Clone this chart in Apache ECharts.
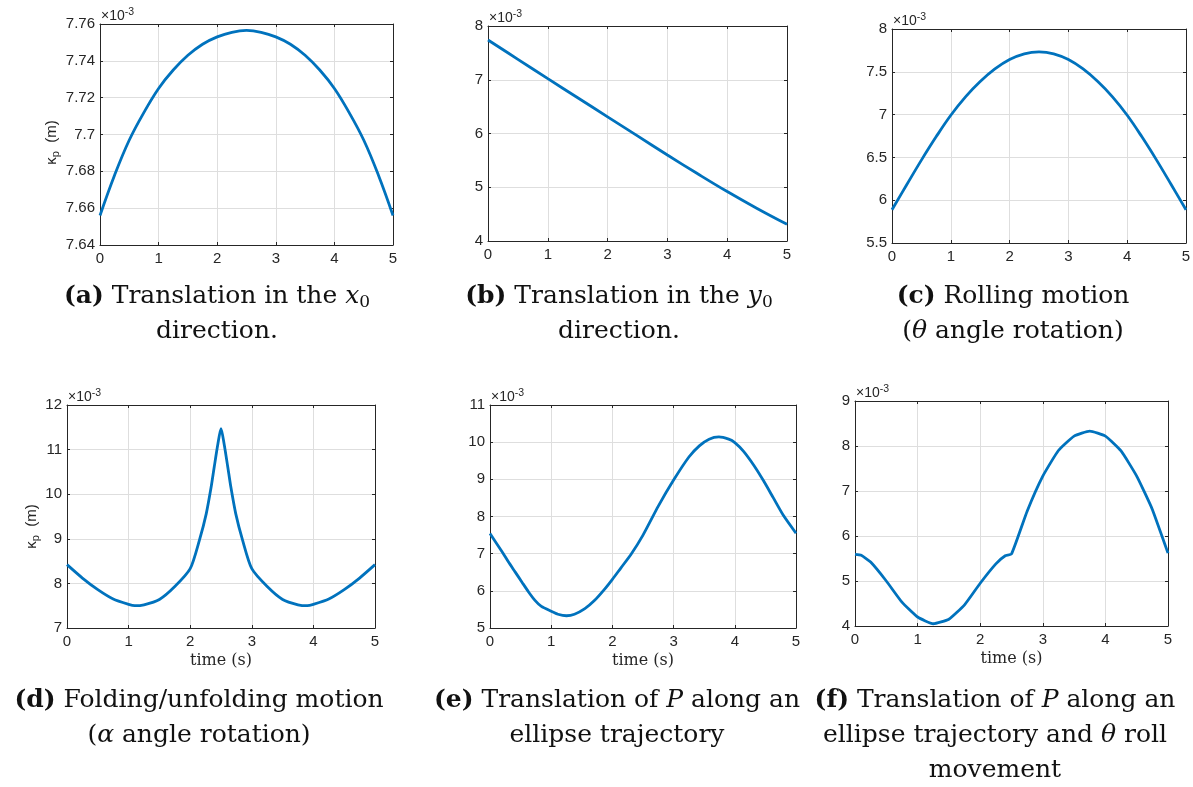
<!DOCTYPE html>
<html>
<head>
<meta charset="UTF-8">
<title>kappa_p vs time</title>
<script src="https://cdn.jsdelivr.net/npm/echarts@6/dist/echarts.min.js"></script>
<style>
body { margin: 0; background: #fff; }
</style>
</head>
<body>
<div id="main" style="width:1193px;height:787px;"></div>
<script type="text/javascript">
// time samples (s)
var tQuarter = [0, 0.25, 0.5, 0.75, 1, 1.25, 1.5, 1.75, 2, 2.25, 2.5, 2.75, 3, 3.25, 3.5, 3.75, 4, 4.25, 4.5, 4.75, 5];
var tHalf = [0, 0.5, 1, 1.5, 2, 2.5, 3, 3.5, 4, 4.5, 5];
var tFold = [0, 0.25, 0.5, 0.75, 1, 1.1, 1.25, 1.5, 1.75, 2, 2.15, 2.26, 2.34, 2.39, 2.45, 2.5, 2.55, 2.61, 2.66, 2.74, 2.85, 3, 3.25, 3.5, 3.75, 3.9, 4, 4.25, 4.5, 4.75, 5];
var tEllipse = [0, 0.2, 0.3, 0.41, 0.52, 0.63, 0.735, 0.84, 1.0, 1.11, 1.25, 1.38, 1.55, 1.71, 1.87, 2.0, 2.14, 2.3, 2.5, 2.75, 3, 3.25, 3.42, 3.58, 3.74, 3.9, 4.0, 4.14, 4.31, 4.47, 4.63, 4.79, 5];
var tRoll = [0, 0.1, 0.25, 0.5, 0.75, 1, 1.25, 1.5, 1.75, 2, 2.25, 2.4, 2.5, 2.75, 3, 3.25, 3.5, 3.75, 4, 4.25, 4.5, 4.75, 5];

// kappa_p values (x 10^-3 m)
var kappaX0 = [7.656, 7.678, 7.697, 7.712, 7.725, 7.735, 7.743, 7.749, 7.753, 7.7555, 7.7565, 7.7555, 7.753, 7.749, 7.743, 7.735, 7.725, 7.712, 7.697, 7.678, 7.656];
var kappaY0 = [7.74, 7.38, 7.02, 6.665, 6.31, 5.955, 5.60, 5.255, 4.92, 4.605, 4.31];
var kappaRollOnly = [5.888, 6.180, 6.468, 6.740, 6.992, 7.207, 7.386, 7.533, 7.643, 7.710, 7.732, 7.710, 7.643, 7.533, 7.386, 7.207, 6.992, 6.740, 6.468, 6.180, 5.888];
var kappaFold = [8.42, 8.12, 7.86, 7.65, 7.53, 7.50, 7.52, 7.64, 7.93, 8.33, 8.97, 9.56, 10.16, 10.61, 11.13, 11.47, 11.13, 10.61, 10.16, 9.56, 8.97, 8.33, 7.93, 7.64, 7.52, 7.50, 7.53, 7.65, 7.86, 8.12, 8.42];
var kappaEllipse = [7.54, 7.045, 6.78, 6.51, 6.24, 5.97, 5.745, 5.58, 5.45, 5.37, 5.33, 5.37, 5.52, 5.745, 6.04, 6.31, 6.62, 6.97, 7.50, 8.28, 8.98, 9.60, 9.90, 10.08, 10.14, 10.08, 9.99, 9.76, 9.38, 8.96, 8.50, 8.04, 7.55];
var kappaEllipseRoll = [5.59, 5.57, 5.42, 5.00, 4.53, 4.20, 4.05, 4.15, 4.47, 4.95, 5.38, 5.56, 5.60, 6.55, 7.33, 7.90, 8.22, 8.33, 8.22, 7.89, 7.33, 6.59, 5.62];

// y axis ranges and tick steps per panel
var yMin = [7.64, 4, 5.5, 7, 5, 4];
var yMax = [7.76, 8, 8, 12, 11, 9];
var yStep = [0.02, 1, 0.5, 1, 1, 1];

var captions = [
    ['{b|(a)} Translation in the {i|x}{s|0}', 'direction.'],
    ['{b|(b)} Translation in the {i|y}{s|0}', 'direction.'],
    ['{b|(c)} Rolling motion', '({i|θ} angle rotation)'],
    ['{b|(d)} Folding/unfolding motion', '({i|α} angle rotation)'],
    ['{b|(e)} Translation of {i|P} along an', 'ellipse trajectory'],
    ['{b|(f)} Translation of {i|P} along an', 'ellipse trajectory and {i|θ} roll', 'movement']
];

// [times, values, smoothing]
var panels = [
    [tQuarter, kappaX0, 0.4],
    [tHalf, kappaY0, 0.4],
    [tQuarter, kappaRollOnly, 0.4],
    [tFold, kappaFold, 0.25],
    [tEllipse, kappaEllipse, 0.2],
    [tRoll, kappaEllipseRoll, 0.15]
];

// layout: left, top, width, height of each axes box
var boxes = [
    [100, 24, 293, 221],
    [488, 26, 299, 215],
    [892, 29, 294, 214],
    [67, 405, 308, 223],
    [490, 405, 306, 223],
    [855, 401, 313, 225]
];
var captionX = [217, 619, 1013, 199, 617, 995];
var captionY = [296, 296, 296, 700, 700, 700];

var ink = '#262626';
var sans = 'Liberation Sans';
var serif = 'DejaVu Serif';

function pairs(t, k) {
    return t.map(function (v, i) { return [v, k[i]]; });
}

var grids = [], xAxes = [], yAxes = [], series = [], graphics = [];

boxes.forEach(function (b, i) {
    grids.push({ left: b[0], top: b[1], width: b[2], height: b[3], containLabel: false, outerBoundsMode: 'none' });

    var line = { show: true, onZero: false, lineStyle: { color: ink, width: 1 } };
    var tick = { show: true, inside: true, length: 3, lineStyle: { color: ink } };
    var grid = { show: true, lineStyle: { color: '#dedede', width: 1 } };

    xAxes.push({
        gridIndex: i, type: 'value', position: 'bottom', min: 0, max: 5, interval: 1,
        axisLine: line, axisTick: tick, splitLine: grid,
        axisLabel: { color: ink, fontFamily: sans, fontSize: 15, margin: 6 },
        name: i >= 3 ? 'time (s)' : '', nameLocation: 'middle', nameGap: 25,
        nameTextStyle: { color: ink, fontFamily: serif, fontSize: 16 }
    });
    xAxes.push({
        gridIndex: i, type: 'value', position: 'top', min: 0, max: 5, interval: 1,
        axisLine: line, axisTick: tick, splitLine: { show: false }, axisLabel: { show: false }
    });

    var yName = '';
    if (i === 0 || i === 3) yName = '{k|κ}{p|p}{n|  (m)}';
    yAxes.push({
        gridIndex: i, type: 'value', position: 'left', min: yMin[i], max: yMax[i], interval: yStep[i],
        axisLine: line, axisTick: tick, splitLine: grid,
        axisLabel: { color: ink, fontFamily: sans, fontSize: 15, margin: 5 },
        name: yName, nameLocation: 'middle', nameGap: i === 0 ? 38 : 24,
        nameTextStyle: {
            color: ink, fontFamily: sans, padding: [0, i === 0 ? 16 : 20, 0, 0],
            rich: {
                k: { fontFamily: sans, fontSize: 15, lineHeight: 20, color: ink },
                p: { fontFamily: sans, fontSize: 11, lineHeight: 10, verticalAlign: 'bottom', color: ink },
                n: { fontFamily: sans, fontSize: 15, lineHeight: 20, color: ink }
            }
        }
    });
    yAxes.push({
        gridIndex: i, type: 'value', position: 'right', min: yMin[i], max: yMax[i], interval: yStep[i],
        axisLine: line, axisTick: tick, splitLine: { show: false }, axisLabel: { show: false }
    });

    series.push({
        type: 'line', xAxisIndex: 2 * i, yAxisIndex: 2 * i,
        data: pairs(panels[i][0], panels[i][1]),
        smooth: panels[i][2], symbol: 'none',
        lineStyle: { color: '#0072BD', width: 2.8 }
    });

    // exponent label above the axes box
    graphics.push({
        type: 'text', x: b[0] + 1, y: b[1] + 1,
        style: {
            text: '{a|×10}{e|-3}', align: 'left', verticalAlign: 'bottom',
            rich: {
                a: { fontFamily: sans, fontSize: 14, lineHeight: 18, fill: ink },
                e: { fontFamily: sans, fontSize: 10.5, lineHeight: 10, verticalAlign: 'top', fill: ink }
            }
        }
    });

    captions[i].forEach(function (txt, j) {
        graphics.push({
            type: 'text', x: captionX[i], y: captionY[i] + 35 * j,
            style: {
                text: txt, align: 'center', verticalAlign: 'middle',
                fontFamily: serif, fontSize: 25, lineHeight: 30, fill: '#111',
                rich: {
                    b: { fontFamily: serif, fontSize: 25, fontWeight: 'bold', lineHeight: 30, fill: '#111' },
                    i: { fontFamily: serif, fontSize: 25, fontStyle: 'italic', lineHeight: 30, fill: '#111' },
                    s: { fontFamily: serif, fontSize: 17, lineHeight: 20, verticalAlign: 'bottom', fill: '#111' }
                }
            }
        });
    });
});

var myChart = echarts.init(document.getElementById('main'), null, { renderer: 'canvas' });
myChart.setOption({
    animation: false,
    backgroundColor: '#fff',
    grid: grids,
    xAxis: xAxes,
    yAxis: yAxes,
    series: series,
    graphic: graphics
});
</script>
</body>
</html>
